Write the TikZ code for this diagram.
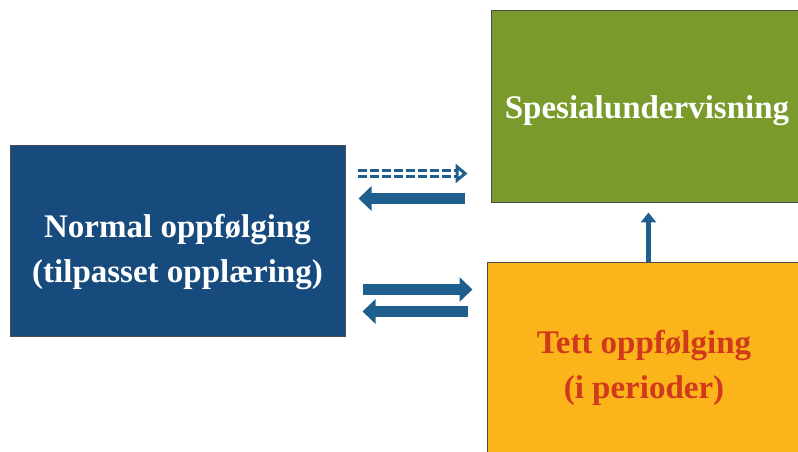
\documentclass[tikz,border=0pt]{standalone}
\usepackage{fontspec}
\setmainfont{Liberation Serif}
\usetikzlibrary{arrows.meta,calc}
\definecolor{normblue}{HTML}{174B7D}
\definecolor{spesgreen}{HTML}{7A9A2C}
\definecolor{tettyellow}{HTML}{FBB419}
\definecolor{tettred}{HTML}{D0391C}
\definecolor{arrowblue}{HTML}{1E5F8E}
\begin{document}
\begin{tikzpicture}[x=1pt,y=1pt,
    box/.style={draw=black!70, line width=1pt, inner sep=0pt},
    boxtext/.style={align=center, font=\fontsize{33}{45}\selectfont\bfseries},
    fatarrow/.style={draw=arrowblue, line width=11pt, -{Triangle[length=13pt,width=24pt]}},
    dasharrow/.style={draw=arrowblue, line width=3pt, double=white, double distance=3pt,
      dash pattern=on 9pt off 3pt, -{Triangle[open,length=12pt,width=19pt]}},
    uparrow/.style={draw=arrowblue, line width=5pt, -{Triangle[length=10pt,width=15pt]}}]
  \useasboundingbox (0,0) rectangle (798,452);
  % boxes
  \node[box, fill=normblue, minimum width=335pt, minimum height=191pt] (norm) at (177.5,210.5) {};
  \node[box, fill=spesgreen, minimum width=312pt, minimum height=192pt] (spes) at (647,345) {};
  \node[box, fill=tettyellow, minimum width=314pt, minimum height=192pt] (tett) at (644,93) {};
  % texts
  \node[boxtext, text=white] (normtext) at ([yshift=-11pt]norm.center)
    {Normal oppfølging\\(tilpasset opplæring)};
  \node[boxtext, text=white] (spestext) at ([yshift=-4pt]spes.center) {Spesialundervisning};
  \node[boxtext, text=tettred] (tetttext) at ([yshift=-9pt]tett.center)
    {Tett oppfølging\\(i perioder)};
  % arrows between normal and spesial
  \draw[dasharrow] ($(norm.east|-spes.south)+(12,30)$) -- ($(spes.south west)+(-23,30)$);
  \draw[fatarrow] ($(spes.south west)+(-26,5)$) -- ($(norm.east|-spes.south)+(13,5)$);
  % arrows between normal and tett
  \draw[fatarrow] ($(norm.east|-tett.north)+(17,-27)$) -- ($(tett.north west)+(-14,-27)$);
  \draw[fatarrow] ($(tett.north west)+(-19,-49)$) -- ($(norm.east|-tett.north)+(17,-49)$);
  % tett up to spesial
  \draw[uparrow] ($(tett.north west)+(162,0)$) -- ($(spes.south west)+(158,-9)$);
\end{tikzpicture}
\end{document}
